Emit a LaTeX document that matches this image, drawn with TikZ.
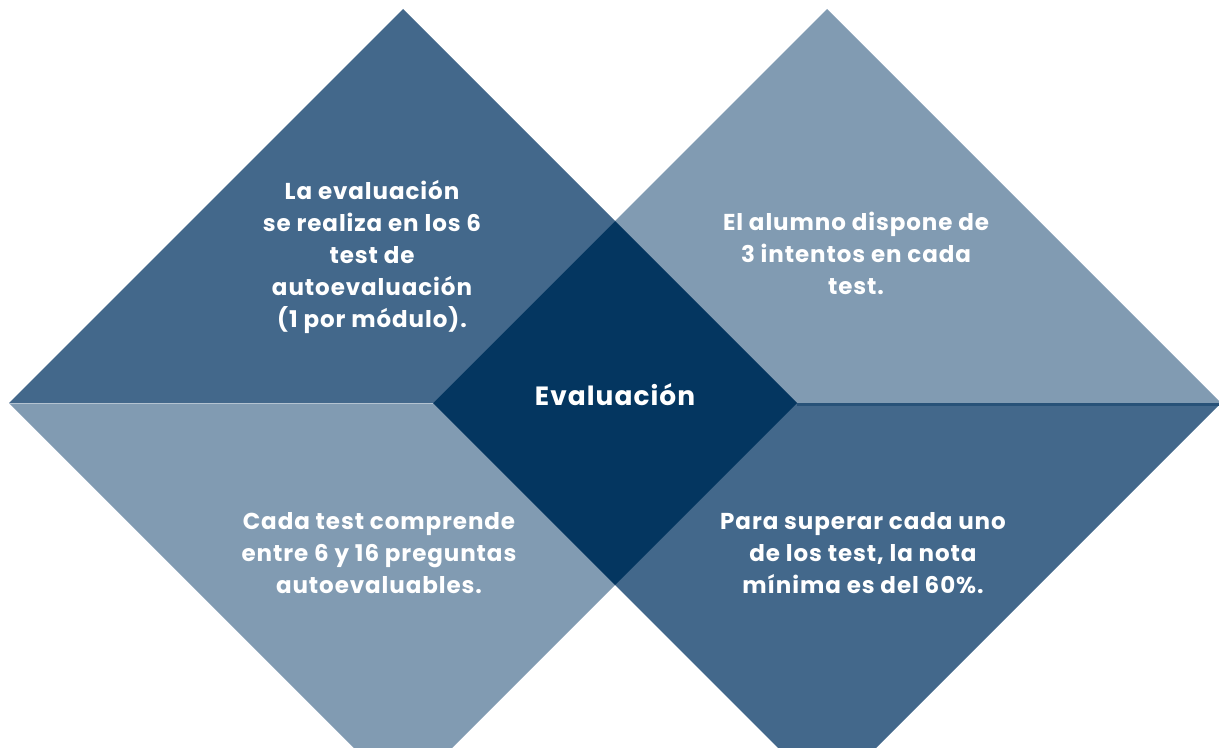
\documentclass[tikz,border=0pt]{standalone}
\usepackage{fontspec}
\setmainfont{Poppins}[LetterSpace=4]
\definecolor{midblue}{HTML}{43688B}
\definecolor{paleblue}{HTML}{819BB2}
\definecolor{evalnavy}{HTML}{043660}
\definecolor{seamblue}{HTML}{285278}
\begin{document}
\begin{tikzpicture}[x=0.5pt,y=-0.5pt,
  txt/.style={text=white,font=\fontsize{11.5}{16}\selectfont\bfseries,align=center},
  title/.style={text=white,font=\fontsize{13.2}{16}\selectfont\bfseries}]
\useasboundingbox (0,0) rectangle (1219,748);
\begin{scope}
\clip (0,0) rectangle (1219,748);
% left diamond
\fill[midblue] (9,403) -- (403,9) -- (797,403) -- cycle;
\fill[paleblue] (9,403) -- (797,403) -- (403,797) -- cycle;
% right diamond
\fill[paleblue] (433,403) -- (827,9) -- (1221,403) -- cycle;
\fill[midblue] (433,403) -- (1221,403) -- (827,797) -- cycle;
% where they overlap
\fill[evalnavy] (433,403) -- (615,221) -- (797,403) -- (615,585) -- cycle;
\draw[seamblue,line width=1.5pt] (797,404) -- (1221,404);
\draw[paleblue!60!white,line width=0.5pt] (9,403) -- (433,403);
\end{scope}
\node[title] (eval) at (615,395) {Evaluación};
\node[txt] (tl) at (372,257) {La evaluación\\se realiza en los 6\\test de\\autoevaluación\\(1 por módulo).};
\node[txt] (tr) at (856,253) {El alumno dispone de\\3 intentos en cada\\test.};
\node[txt] (bl) at (379,553) {Cada test comprende\\entre 6 y 16 preguntas\\autoevaluables.};
\node[txt] (br) at (863,553) {Para superar cada uno\\de los test, la nota\\mínima es del 60\%.};
\end{tikzpicture}
\end{document}
